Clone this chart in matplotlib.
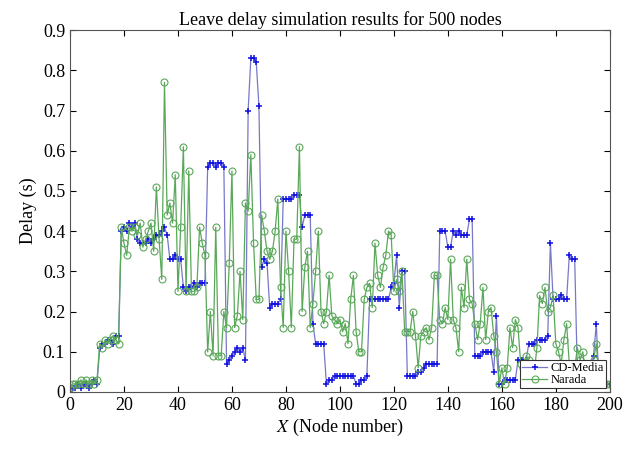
import numpy as np
import matplotlib
matplotlib.use('Agg')
from matplotlib import pyplot as plt

plt.rcParams['font.family'] = ['Liberation Serif', 'DejaVu Serif']
plt.rcParams['mathtext.fontset'] = 'stix'

nodes = np.arange(0, 201)

# CD-Media delay per node (s)
cd_media = [
    0.00, 0.01, 0.01, 0.02, 0.01, 0.02, 0.02, 0.01, 0.02, 0.03, 0.02,
    0.11, 0.12, 0.12, 0.13, 0.13, 0.12, 0.14, 0.14,
    0.40, 0.41, 0.40, 0.42, 0.41, 0.42, 0.38, 0.37, 0.37, 0.37, 0.38, 0.37, 0.38, 0.39, 0.39, 0.40, 0.41, 0.39,
    0.33, 0.33, 0.34, 0.33, 0.33,
    0.26, 0.25, 0.26, 0.26, 0.27, 0.26, 0.27, 0.27, 0.27,
    0.56, 0.57, 0.57, 0.56, 0.57, 0.57, 0.56,
    0.07, 0.08, 0.09, 0.10, 0.11, 0.10, 0.11, 0.08,
    0.70, 0.83, 0.83, 0.82, 0.71,
    0.31, 0.33, 0.32, 0.21, 0.22, 0.22, 0.22, 0.23,
    0.48, 0.48, 0.48, 0.48, 0.49, 0.49, 0.49, 0.41,
    0.44, 0.44, 0.44, 0.17, 0.12, 0.12, 0.12, 0.12,
    0.02, 0.03, 0.03, 0.04, 0.04, 0.04,
    0.04, 0.04, 0.04, 0.04, 0.04, 0.02, 0.02, 0.03, 0.03, 0.04,
    0.23, 0.23, 0.23, 0.23, 0.23, 0.23, 0.23, 0.23,
    0.26, 0.27, 0.34, 0.21, 0.30, 0.30, 0.04,
    0.04, 0.04, 0.04, 0.05, 0.05, 0.06, 0.07, 0.07, 0.07, 0.07, 0.07,
    0.40, 0.40, 0.40, 0.36, 0.36, 0.40, 0.39, 0.40, 0.39, 0.39, 0.39, 0.43, 0.43,
    0.09, 0.09, 0.09, 0.10, 0.10, 0.10, 0.10, 0.05, 0.19, 0.02,
    0.02, 0.03, 0.03, 0.03, 0.03, 0.03, 0.08, 0.08, 0.08, 0.08,
    0.12, 0.12, 0.12, 0.13, 0.13, 0.13, 0.13, 0.14, 0.37,
    0.23, 0.23, 0.23, 0.24, 0.23, 0.23, 0.34, 0.33, 0.33,
    0.04, 0.04, 0.04, 0.03, 0.04, 0.06, 0.09, 0.17,
    0.02, 0.02, 0.02, 0.02, 0.02,
]

# Narada delay per node (s)
narada = [
    0.01, 0.02, 0.02, 0.02, 0.03, 0.02, 0.03, 0.02, 0.03, 0.02, 0.03,
    0.12, 0.11, 0.13, 0.12, 0.13, 0.14, 0.13, 0.12,
    0.41, 0.37, 0.34, 0.41, 0.40,
    0.41, 0.39, 0.42, 0.36, 0.38, 0.40, 0.42, 0.35, 0.51, 0.38, 0.28, 0.77, 0.44,
    0.47, 0.42, 0.54, 0.25, 0.41, 0.61, 0.25, 0.55, 0.25, 0.25, 0.26, 0.41, 0.37,
    0.34, 0.10, 0.20, 0.09, 0.41, 0.09, 0.09, 0.20, 0.16, 0.32, 0.55, 0.16, 0.19,
    0.30, 0.18, 0.47, 0.45, 0.59, 0.37, 0.23, 0.23, 0.44, 0.40, 0.35, 0.33,
    0.35, 0.40, 0.48, 0.26, 0.16, 0.40, 0.30, 0.16, 0.38, 0.38, 0.61, 0.20, 0.31,
    0.35, 0.16, 0.22, 0.30, 0.40, 0.20, 0.17, 0.20, 0.29, 0.19, 0.18, 0.17, 0.18,
    0.15, 0.17, 0.12, 0.23, 0.29, 0.15, 0.10, 0.10, 0.23, 0.26, 0.27, 0.21,
    0.37, 0.29, 0.26, 0.31, 0.34, 0.40, 0.39, 0.25, 0.28, 0.25, 0.30, 0.15,
    0.15, 0.15, 0.20, 0.14, 0.06, 0.14, 0.15, 0.16, 0.13, 0.16, 0.29, 0.29, 0.18,
    0.17, 0.21, 0.18, 0.33, 0.18, 0.16, 0.10, 0.26, 0.21, 0.33, 0.23, 0.22, 0.17,
    0.13, 0.17, 0.26, 0.13, 0.20, 0.21, 0.14, 0.10, 0.02, 0.06, 0.02, 0.06, 0.16,
    0.11, 0.18, 0.16, 0.07, 0.06, 0.09, 0.08, 0.06, 0.05, 0.11, 0.24, 0.22, 0.26,
    0.20, 0.21, 0.24, 0.12, 0.10, 0.07, 0.13, 0.17, 0.07, 0.04, 0.06, 0.11,
    0.08, 0.10, 0.05, 0.06, 0.05, 0.08, 0.12, 0.04, 0.03, 0.02, 0.02, 0.02,
]

xticks = np.arange(0, 201, 20)
yticks = np.round(np.arange(0, 0.91, 0.1), 1)
ytick_labels = ['0'] + ['%.1f' % v for v in yticks[1:]]

fig = plt.figure(figsize=(6.28, 4.49), dpi=100)
ax = fig.add_axes([0.1115, 0.127, 0.8595, 0.806])

ax.plot(nodes, cd_media, color='#7878c8', lw=0.9, marker='+', ms=4,
        mec='#1010e0', mew=1.1, label='CD-Media')
ax.plot(nodes, narada, color='#5aa85a', lw=0.9, marker='o', ms=5,
        mfc='none', mec='#5aa85a', mew=0.8, label='Narada')

ax.set_xlim(0, 200)
ax.set_ylim(0, 0.9)
ax.set_xticks(xticks)
ax.set_yticks(yticks)
ax.set_yticklabels(ytick_labels)
ax.tick_params(direction='in', top=True, right=True, labelsize=13, length=4)
for s in ax.spines.values():
    s.set_color('#555555')

ax.set_title('Leave delay simulation results for 500 nodes', fontsize=13, pad=4)
ax.set_ylabel('Delay (s)', fontsize=13)
ax.set_xlabel('$X$ (Node number)', fontsize=13, labelpad=2)

leg = ax.legend(loc='lower right', fontsize=9, fancybox=False, framealpha=1,
                edgecolor='#333333', borderpad=0.15, labelspacing=0.0,
                handlelength=2.0, handletextpad=0.3, borderaxespad=0.3)
leg.get_frame().set_linewidth(0.8)

fig.savefig('out.png', dpi=100)
